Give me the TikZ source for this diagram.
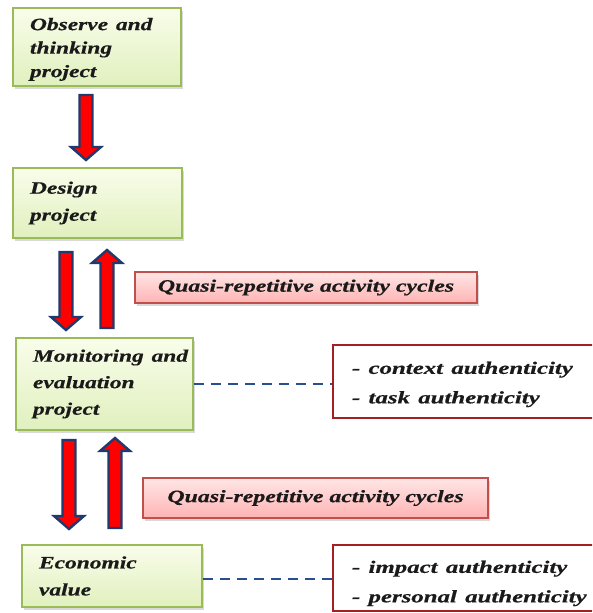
\documentclass[tikz,border=0pt]{standalone}
\usepackage{fontspec}
\setmainfont{Liberation Serif}[BoldItalicFeatures={FakeBold=0.4}]
\usetikzlibrary{shadows}
\definecolor{gborder}{HTML}{9BBB59}
\definecolor{gtop}{HTML}{F9FDEA}
\definecolor{gbot}{HTML}{E0F0BE}
\definecolor{pborder}{HTML}{C0504D}
\definecolor{ptop}{HTML}{FFE6E6}
\definecolor{pbot}{HTML}{FFB3B3}
\definecolor{aborder}{HTML}{A31F24}
\definecolor{abody}{HTML}{FF0000}
\definecolor{aedge}{HTML}{1F3A6E}
\definecolor{dashc}{HTML}{2A4F8F}
\definecolor{txt}{HTML}{1A1A1A}
\newcommand{\wl}[1]{\makebox[0pt][l]{\scalebox{1.34}[1]{#1}}}
\newcommand{\wa}[1]{\makebox[0pt][l]{\scalebox{1.42}[1]{#1}}}
\newcommand{\wc}[1]{\scalebox{1.36}[1]{#1}}
\newcommand{\blockarrow}[3]{%
  \pgfmathsetmacro{\hy}{#3>#2 ? #3-13 : #3+13}%
  \filldraw[draw=aedge, fill=abody, line width=2.4pt, line join=miter]
    (#1-6.5,#2) -- (#1-6.5,\hy) -- (#1-15,\hy) -- (#1,#3) -- (#1+15,\hy)
    -- (#1+6.5,\hy) -- (#1+6.5,#2) -- cycle;}
\begin{document}
\begin{tikzpicture}[x=1pt,y=-1pt,
  font=\fontsize{17.5}{26.5}\selectfont\bfseries\itshape,
  greenbox/.style={rectangle, draw=gborder, line width=1.5pt,
    top color=gtop, bottom color=gbot,
    drop shadow={opacity=0.3, shadow xshift=1.5pt, shadow yshift=-2.5pt},
    inner xsep=17pt, inner ysep=0pt, align=left, text=txt},
  pinkbox/.style={rectangle, draw=pborder, line width=1.5pt,
    top color=ptop, bottom color=pbot,
    drop shadow={opacity=0.3, shadow xshift=1.5pt, shadow yshift=-2.5pt},
    inner sep=0pt, align=center, text=txt},
  authbox/.style={rectangle, draw=aborder, line width=2.4pt, fill=white,
    inner xsep=19pt, inner ysep=0pt, align=left, text=txt,
    font=\fontsize{17.5}{29.5}\selectfont\bfseries\itshape},
  dashlink/.style={draw=dashc, line width=2pt, dash pattern=on 10pt off 7pt}
]
\useasboundingbox (0,0) rectangle (592,613);
\clip (0,0) rectangle (592,613);

\node[greenbox, text width=134pt, minimum height=78pt,
  font=\fontsize{17.5}{23.5}\selectfont\bfseries\itshape] (obs) at (97,47)
  {\rule{0pt}{17pt}\wl{Observe and}\\\wl{thinking}\\\wl{project}};
\node[greenbox, text width=135pt, minimum height=70pt,
  font=\fontsize{17.5}{27}\selectfont\bfseries\itshape] (des) at (97.5,203)
  {\wl{Design}\\\wl{project}};
\node[greenbox, text width=143pt, minimum height=92pt] (mon) at (104.5,384)
  {\wl{Monitoring and}\\\wl{evaluation}\\\wl{project}};
\node[greenbox, text width=146pt, minimum height=62pt,
  font=\fontsize{17.5}{27}\selectfont\bfseries\itshape] (eco) at (112,576)
  {\wl{Economic}\\\wl{value}};

\node[pinkbox, minimum width=342pt, minimum height=31pt] (q1) at (306,287.5)
  {\wc{Quasi-repetitive activity cycles}};
\node[pinkbox, minimum width=345pt, minimum height=40pt] (q2) at (315.5,498)
  {\wc{Quasi-repetitive activity cycles}};

\node[authbox, text width=249pt, minimum height=73pt] (a1) at (476.5,381.5)
  {\rule{0pt}{18pt}\wa{- context authenticity}\\\wa{- task authenticity}};
\node[authbox, text width=249pt, minimum height=66pt] (a2) at (476.5,578)
  {\rule{0pt}{23pt}\wa{- impact authenticity}\\\wa{- personal authenticity}};

\draw[dashlink] (mon.east) -- (mon.east -| a1.west);
\draw[dashlink] ([yshift=-3pt]eco.east) -- ([yshift=-3pt]eco.east -| a2.west);

\blockarrow{86}{95}{160}
\blockarrow{66}{252}{330}
\blockarrow{107}{328}{250}
\blockarrow{69}{440}{529}
\blockarrow{115}{528}{438}
\end{tikzpicture}
\end{document}
